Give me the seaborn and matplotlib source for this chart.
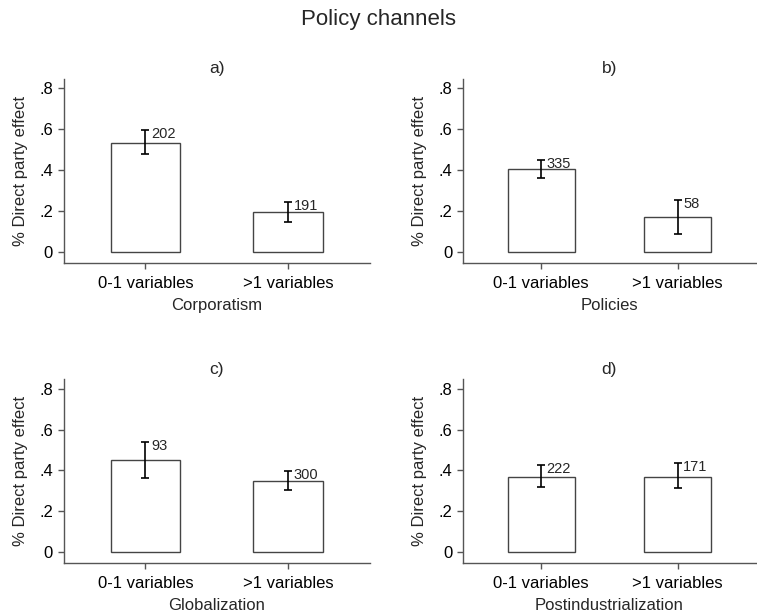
import matplotlib
matplotlib.use("Agg")
import matplotlib.pyplot as plt
import seaborn as sns
import pandas as pd
import numpy as np

categories = ["0-1 variables", ">1 variables"]
panel_letters = ["a)", "b)", "c)", "d)"]
panel_xlabels = ["Corporatism", "Policies", "Globalization", "Postindustrialization"]

corp_mean = [0.535, 0.195]
corp_lo = [0.479, 0.149]
corp_hi = [0.595, 0.245]
corp_n = [202, 191]

pol_mean = [0.406, 0.170]
pol_lo = [0.363, 0.088]
pol_hi = [0.452, 0.255]
pol_n = [335, 58]

glob_mean = [0.449, 0.348]
glob_lo = [0.364, 0.307]
glob_hi = [0.538, 0.397]
glob_n = [93, 300]

post_mean = [0.370, 0.370]
post_lo = [0.320, 0.313]
post_hi = [0.426, 0.436]
post_n = [222, 171]

yticks = [0, 0.2, 0.4, 0.6, 0.8]
ytick_labels = ["0", ".2", ".4", ".6", ".8"]

sns.set_style("ticks")
plt.rcParams["font.family"] = ["Liberation Sans", "DejaVu Sans"]

fig = plt.figure(figsize=(7.57, 6.14), dpi=100)

W, H = 757.0, 614.0
boxes = [
    (63.5, 79, 370, 262.7),
    (462.7, 79, 756, 262.7),
    (63.5, 379.5, 370, 562.7),
    (462.7, 379.5, 756, 562.7),
]

panels = [
    (corp_mean, corp_lo, corp_hi, corp_n),
    (pol_mean, pol_lo, pol_hi, pol_n),
    (glob_mean, glob_lo, glob_hi, glob_n),
    (post_mean, post_lo, post_hi, post_n),
]

spine_col = "#555555"

for i, ((m, lo, hi, n), (x0, y0, x1, y1)) in enumerate(zip(panels, boxes)):
    ax = fig.add_axes([x0 / W, (H - y1) / H, (x1 - x0) / W, (y1 - y0) / H])
    df = pd.DataFrame({"cat": categories, "val": m})
    sns.barplot(data=df, x="cat", y="val", ax=ax, color="white",
                edgecolor="#444444", linewidth=1.0, width=0.49,
                errorbar=None, saturation=1)
    xs = np.arange(len(categories))
    m_a = np.array(m)
    yerr = np.vstack([m_a - np.array(lo), np.array(hi) - m_a])
    ax.errorbar(xs, m_a, yerr=yerr, fmt="none", ecolor="black",
                elinewidth=1.2, capsize=2.8, capthick=1.2)
    for xi, h, nn in zip(xs, hi, n):
        ax.annotate(str(nn), xy=(xi, h), xytext=(4, 2),
                    textcoords="offset points", ha="left", va="top",
                    fontsize=10.5)
    ax.set_xlim(-0.575, 1.575)
    ax.set_ylim(-0.051, 0.845)
    ax.set_yticks(yticks)
    ax.set_yticklabels(ytick_labels)
    ax.set_ylabel("% Direct party effect", fontsize=12, labelpad=8)
    ax.set_xlabel(panel_xlabels[i], fontsize=12, labelpad=5)
    ax.set_title(panel_letters[i], fontsize=12.5, pad=4)
    for s in ["top", "right"]:
        ax.spines[s].set_visible(False)
    for s in ["left", "bottom"]:
        ax.spines[s].set_color(spine_col)
        ax.spines[s].set_linewidth(1.0)
    ax.tick_params(axis="both", colors=spine_col, labelcolor="black",
                   labelsize=12, length=4.5, width=1.0)
    ax.tick_params(axis="x", pad=5)
    ax.tick_params(axis="y", pad=3)

fig.suptitle("Policy channels", fontsize=16, y=0.985)
fig.savefig("out.png", dpi=100, facecolor="white")
